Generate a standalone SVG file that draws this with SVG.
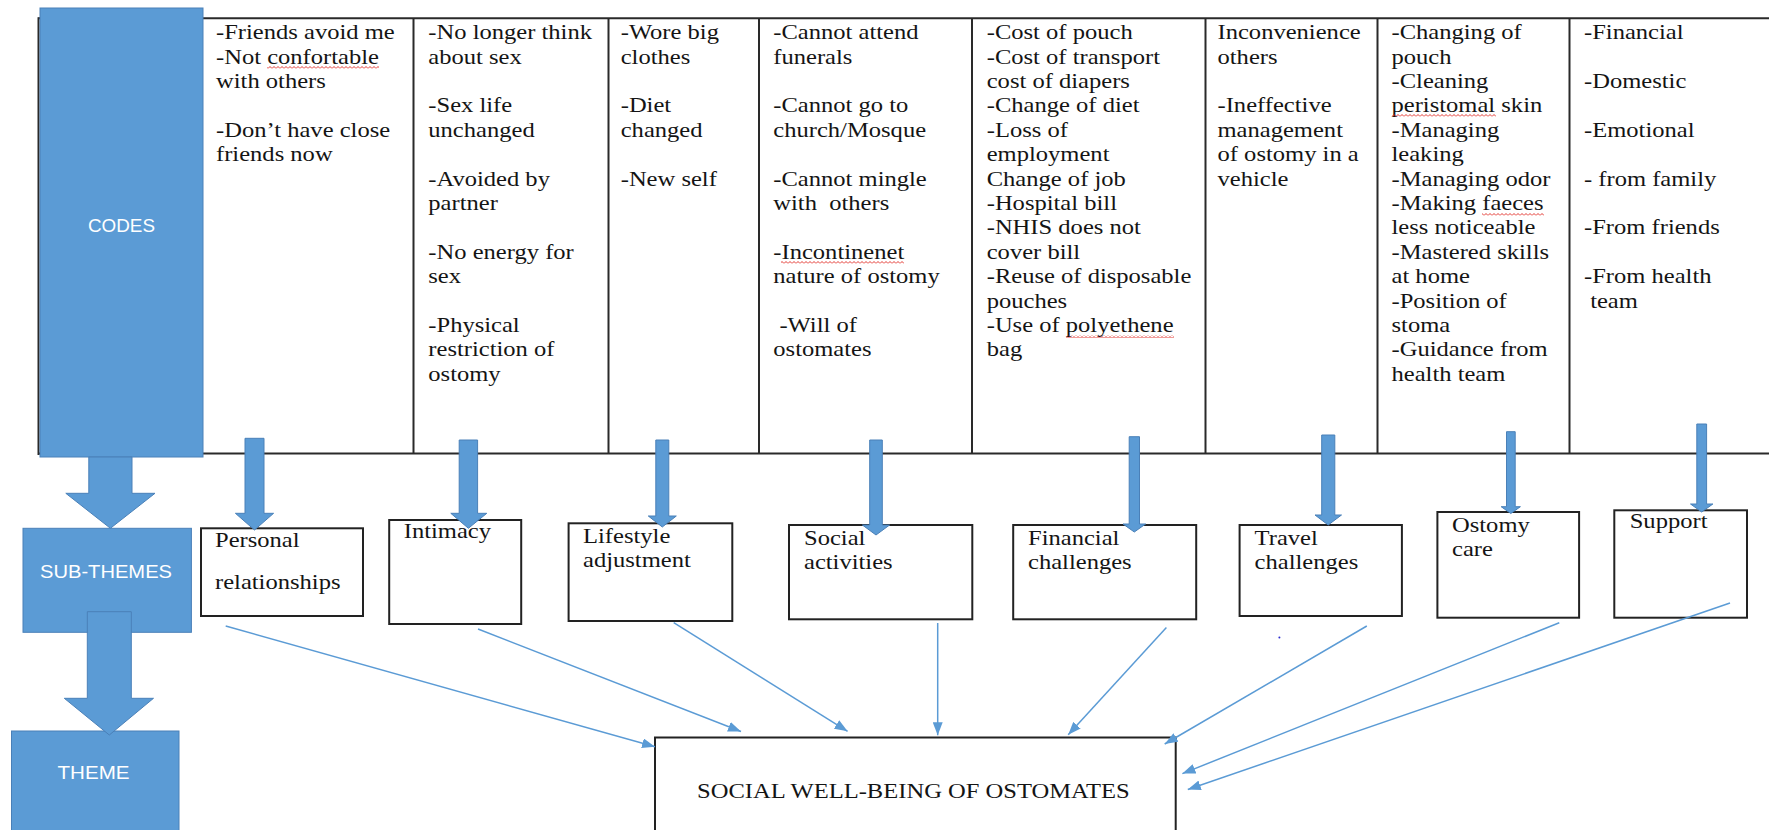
<svg xmlns="http://www.w3.org/2000/svg" width="1769" height="830" viewBox="0 0 1769 830">
<style>
.code{font-family:"Liberation Serif","Times New Roman",serif;font-size:21px;fill:#141414}
.lbl{font-family:"Liberation Sans",Arial,sans-serif;font-size:18px;fill:#ffffff;text-anchor:middle}
.blue{fill:#5B9BD5;stroke:#4A80B8;stroke-width:1}
.tbl{fill:none;stroke:#2a2a2a;stroke-width:2}
.box{fill:#ffffff;stroke:#222222;stroke-width:2}
.conn{fill:none;stroke:#5B9BD5;stroke-width:1.5;marker-end:url(#ah)}
.wavy{fill:url(#wv)}
</style>
<defs>
<marker id="ah" markerUnits="userSpaceOnUse" markerWidth="13" markerHeight="10" refX="13" refY="5" orient="auto" viewBox="0 0 13 10">
<path d="M0,0 L13,5 L0,10 z" fill="#5B9BD5"/>
</marker>
<pattern id="wv" patternUnits="userSpaceOnUse" width="4" height="3">
<polyline points="0,2.5 2,0.5 4,2.5" fill="none" stroke="#e0201b" stroke-width="0.9"/>
</pattern>
</defs>

<!-- table -->
<g id="table">
<line class="tbl" x1="38.5" y1="18.3" x2="1769" y2="18.3"/>
<line class="tbl" x1="38.5" y1="453.5" x2="1769" y2="453.5"/>
<line class="tbl" x1="38.5" y1="17.3" x2="38.5" y2="455"/>
<line class="tbl" x1="413.5" y1="18.3" x2="413.5" y2="453.5"/>
<line class="tbl" x1="608.5" y1="18.3" x2="608.5" y2="453.5"/>
<line class="tbl" x1="759" y1="18.3" x2="759" y2="453.5"/>
<line class="tbl" x1="972" y1="18.3" x2="972" y2="453.5"/>
<line class="tbl" x1="1205.5" y1="18.3" x2="1205.5" y2="453.5"/>
<line class="tbl" x1="1377.5" y1="18.3" x2="1377.5" y2="453.5"/>
<line class="tbl" x1="1569.5" y1="18.3" x2="1569.5" y2="453.5"/>
</g>

<!-- level labels -->
<g id="codes-label">
<rect class="blue" x="40" y="8" width="163" height="449"/>
<text class="lbl" x="121.5" y="231.7" textLength="67" lengthAdjust="spacingAndGlyphs">CODES</text>
</g>
<g id="subthemes-label">
<rect class="blue" x="23" y="528.3" width="168.4" height="104"/>
<text class="lbl" x="106" y="577.7" textLength="132" lengthAdjust="spacingAndGlyphs">SUB-THEMES</text>
</g>
<g id="theme-label">
<rect class="blue" x="11.5" y="731" width="167.5" height="110"/>
<text class="lbl" x="93.5" y="779" textLength="72" lengthAdjust="spacingAndGlyphs">THEME</text>
</g>

<!-- code columns -->
<g id="codes-personal">
<text class="code" transform="translate(216,0) scale(1.17,1)"><tspan x="0" y="39.3">-Friends avoid me</tspan><tspan x="0" y="63.7">-Not confortable</tspan><tspan x="0" y="88.1">with others</tspan><tspan x="0" y="136.9">-Don’t have close</tspan><tspan x="0" y="161.3">friends now</tspan></text>
<rect class="wavy" x="267" y="66" width="112" height="3"/>
</g>
<g id="codes-intimacy">
<text class="code" transform="translate(428.3,0) scale(1.17,1)"><tspan x="0" y="39.3">-No longer think</tspan><tspan x="0" y="63.7">about sex</tspan><tspan x="0" y="112.5">-Sex life</tspan><tspan x="0" y="136.9">unchanged</tspan><tspan x="0" y="185.7">-Avoided by</tspan><tspan x="0" y="210.1">partner</tspan><tspan x="0" y="258.9">-No energy for</tspan><tspan x="0" y="283.3">sex</tspan><tspan x="0" y="332.1">-Physical</tspan><tspan x="0" y="356.5">restriction of</tspan><tspan x="0" y="380.9">ostomy</tspan></text>
</g>
<g id="codes-lifestyle">
<text class="code" transform="translate(620.7,0) scale(1.17,1)"><tspan x="0" y="39.3">-Wore big</tspan><tspan x="0" y="63.7">clothes</tspan><tspan x="0" y="112.5">-Diet</tspan><tspan x="0" y="136.9">changed</tspan><tspan x="0" y="185.7">-New self</tspan></text>
</g>
<g id="codes-social">
<text class="code" transform="translate(773.3,0) scale(1.17,1)"><tspan x="0" y="39.3">-Cannot attend</tspan><tspan x="0" y="63.7">funerals</tspan><tspan x="0" y="112.5">-Cannot go to</tspan><tspan x="0" y="136.9">church/Mosque</tspan><tspan x="0" y="185.7">-Cannot mingle</tspan><tspan x="0" y="210.1">with&#160; others</tspan><tspan x="0" y="258.9">-Incontinenet</tspan><tspan x="0" y="283.3">nature of ostomy</tspan><tspan x="0" y="332.1">&#160;-Will of</tspan><tspan x="0" y="356.5">ostomates</tspan></text>
<rect class="wavy" x="781" y="261" width="123" height="3"/>
</g>
<g id="codes-financial">
<text class="code" transform="translate(986.7,0) scale(1.17,1)"><tspan x="0" y="39.3">-Cost of pouch</tspan><tspan x="0" y="63.7">-Cost of transport</tspan><tspan x="0" y="88.1">cost of diapers</tspan><tspan x="0" y="112.5">-Change of diet</tspan><tspan x="0" y="136.9">-Loss of</tspan><tspan x="0" y="161.3">employment</tspan><tspan x="0" y="185.7">Change of job</tspan><tspan x="0" y="210.1">-Hospital bill</tspan><tspan x="0" y="234.5">-NHIS does not</tspan><tspan x="0" y="258.9">cover bill</tspan><tspan x="0" y="283.3">-Reuse of disposable</tspan><tspan x="0" y="307.7">pouches</tspan><tspan x="0" y="332.1">-Use of polyethene</tspan><tspan x="0" y="356.5">bag</tspan></text>
<rect class="wavy" x="1066" y="335" width="108" height="3"/>
</g>
<g id="codes-travel">
<text class="code" transform="translate(1217.5,0) scale(1.17,1)"><tspan x="0" y="39.3">Inconvenience</tspan><tspan x="0" y="63.7">others</tspan><tspan x="0" y="112.5">-Ineffective</tspan><tspan x="0" y="136.9">management</tspan><tspan x="0" y="161.3">of ostomy in a</tspan><tspan x="0" y="185.7">vehicle</tspan></text>
</g>
<g id="codes-ostomy">
<text class="code" transform="translate(1391.5,0) scale(1.17,1)"><tspan x="0" y="39.3">-Changing of</tspan><tspan x="0" y="63.7">pouch</tspan><tspan x="0" y="88.1">-Cleaning</tspan><tspan x="0" y="112.5">peristomal skin</tspan><tspan x="0" y="136.9">-Managing</tspan><tspan x="0" y="161.3">leaking</tspan><tspan x="0" y="185.7">-Managing odor</tspan><tspan x="0" y="210.1">-Making faeces</tspan><tspan x="0" y="234.5">less noticeable</tspan><tspan x="0" y="258.9">-Mastered skills</tspan><tspan x="0" y="283.3">at home</tspan><tspan x="0" y="307.7">-Position of</tspan><tspan x="0" y="332.1">stoma</tspan><tspan x="0" y="356.5">-Guidance from</tspan><tspan x="0" y="380.9">health team</tspan></text>
<rect class="wavy" x="1392" y="114" width="104" height="3"/>
<rect class="wavy" x="1482" y="213" width="62" height="3"/>
</g>
<g id="codes-support">
<text class="code" transform="translate(1584,0) scale(1.17,1)"><tspan x="0" y="39.3">-Financial</tspan><tspan x="0" y="88.1">-Domestic</tspan><tspan x="0" y="136.9">-Emotional</tspan><tspan x="0" y="185.7">- from family</tspan><tspan x="0" y="234.5">-From friends</tspan><tspan x="0" y="283.3">-From health</tspan><tspan x="0" y="307.7">&#160;team</tspan></text>
</g>

<!-- sub-theme boxes -->
<g id="sub-personal">
<rect class="box" x="201" y="528.3" width="162" height="87.7"/>
<text class="code" transform="translate(215,0) scale(1.17,1)"><tspan x="0" y="546.7">Personal</tspan><tspan x="0" y="589.3">relationships</tspan></text>
</g>
<g id="sub-intimacy">
<rect class="box" x="389.2" y="520" width="132" height="104"/>
<text class="code" transform="translate(403.7,0) scale(1.17,1)"><tspan x="0" y="538.3">Intimacy</tspan></text>
</g>
<g id="sub-lifestyle">
<rect class="box" x="568.6" y="523.3" width="163.7" height="97.7"/>
<text class="code" transform="translate(583,0) scale(1.17,1)"><tspan x="0" y="543.3">Lifestyle</tspan><tspan x="0" y="567.3">adjustment</tspan></text>
</g>
<g id="sub-social">
<rect class="box" x="789" y="525" width="183.3" height="94.3"/>
<text class="code" transform="translate(804,0) scale(1.17,1)"><tspan x="0" y="545">Social</tspan><tspan x="0" y="569.3">activities</tspan></text>
</g>
<g id="sub-financial">
<rect class="box" x="1013.2" y="525" width="183" height="94.3"/>
<text class="code" transform="translate(1028,0) scale(1.17,1)"><tspan x="0" y="545">Financial</tspan><tspan x="0" y="569.3">challenges</tspan></text>
</g>
<g id="sub-travel">
<rect class="box" x="1239.6" y="525" width="162.3" height="91"/>
<text class="code" transform="translate(1254.6,0) scale(1.17,1)"><tspan x="0" y="545">Travel</tspan><tspan x="0" y="569.3">challenges</tspan></text>
</g>
<g id="sub-ostomy">
<rect class="box" x="1437.4" y="512" width="141.7" height="105.7"/>
<text class="code" transform="translate(1452,0) scale(1.17,1)"><tspan x="0" y="531.7">Ostomy</tspan><tspan x="0" y="556">care</tspan></text>
</g>
<g id="sub-support">
<rect class="box" x="1614.3" y="510.3" width="132.7" height="107.4"/>
<text class="code" transform="translate(1629.7,0) scale(1.17,1)"><tspan x="0" y="528.3">Support</tspan></text>
</g>

<!-- theme box -->
<g id="theme">
<rect class="box" x="655" y="737.5" width="520.7" height="110"/>
<text class="code" transform="translate(697,0) scale(1.17,1)"><tspan x="0" y="798.3">SOCIAL WELL-BEING OF OSTOMATES</tspan></text>
</g>

<!-- connectors -->
<g id="connectors">
<polygon class="blue" points="88.8,457 132,457 132,493.3 155,493.3 110.4,528.3 65.8,493.3 88.8,493.3"/>
<polygon class="blue" points="87.3,611.7 131.3,611.7 131.3,698.3 153.5,698.3 109.3,735 64.3,698.3 87.3,698.3"/>
<polygon class="blue" points="245,438.3 264,438.3 264,513.3 273.6,513.3 254.5,530 235.4,513.3 245,513.3"/>
<polygon class="blue" points="459.2,440 477.6,440 477.6,513.3 486.8,513.3 468.4,528.3 450.8,513.3 459.2,513.3"/>
<polygon class="blue" points="655.8,440 668.8,440 668.8,516 676.3,516 662.3,527 648.3,516 655.8,516"/>
<polygon class="blue" points="869.7,440 882.3,440 882.3,525 889.6,525 876,535 862.4,525 869.7,525"/>
<polygon class="blue" points="1129.2,436.7 1139.5,436.7 1139.5,524 1145.6,524 1134.3,532 1123,524 1129.2,524"/>
<polygon class="blue" points="1321.7,435 1334.8,435 1334.8,515 1341.5,515 1328.2,525 1315,515 1321.7,515"/>
<polygon class="blue" points="1506.5,431.7 1515.2,431.7 1515.2,506.7 1520.4,506.7 1510.8,513.5 1501.2,506.7 1506.5,506.7"/>
<polygon class="blue" points="1696.8,424 1706.6,424 1706.6,504 1712.9,504 1701.7,512 1690.5,504 1696.8,504"/>
<line class="conn" x1="225.7" y1="626" x2="655" y2="746.8"/>
<line class="conn" x1="478" y1="629" x2="741" y2="731.5"/>
<line class="conn" x1="673.7" y1="622.7" x2="847.6" y2="731.3"/>
<line class="conn" x1="937.7" y1="623" x2="937.7" y2="735.3"/>
<line class="conn" x1="1166.4" y1="627.5" x2="1068.2" y2="734.8"/>
<line class="conn" x1="1366.8" y1="626" x2="1164.7" y2="744"/>
<line class="conn" x1="1559.3" y1="622.7" x2="1182.4" y2="773.6"/>
<line class="conn" x1="1730" y1="603" x2="1187.8" y2="789.5"/>
</g>
<circle cx="1279.4" cy="637.4" r="1" fill="#2a2ad0"/>
</svg>
